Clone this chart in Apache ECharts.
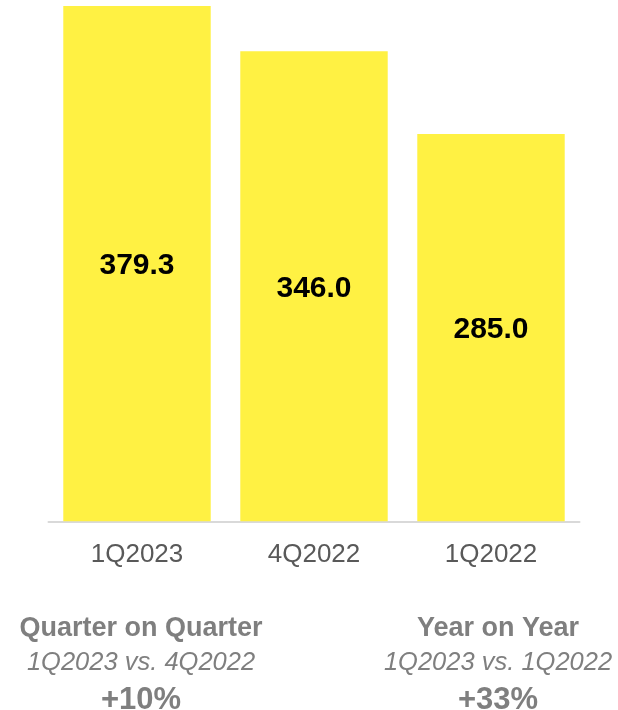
<!DOCTYPE html>
<html>
<head>
<meta charset="utf-8">
<script src="https://cdn.jsdelivr.net/npm/echarts@6/dist/echarts.min.js"></script>
<style>
  html, body { margin: 0; padding: 0; background: #ffffff; }
  #chart { width: 618px; height: 710px; }
</style>
</head>
<body>
<div id="chart"></div>
<script>
// Quarterly values, most recent first
const categories = ['1Q2023', '4Q2022', '1Q2022'];
const values = [379.3, 346.0, 285.0];

// Comparison blocks under the chart: title, subtitle, index of the compared quarter
const comparisonTitles = ['Quarter on Quarter', 'Year on Year'];
const comparisonSubtitles = ['1Q2023 vs. 4Q2022', '1Q2023 vs. 1Q2022'];
const comparisonBase = [1, 2];

const FONT = 'Arial, "Liberation Sans", sans-serif';
const GREY = '#7f7f7f';

function growthText(i) {
  const pct = Math.round((values[0] / values[comparisonBase[i]] - 1) * 100);
  return (pct >= 0 ? '+' : '') + pct + '%';
}

const blockCenters = [141, 498];
const graphics = [];
comparisonTitles.forEach(function (title, i) {
  const cx = blockCenters[i];
  graphics.push({
    type: 'text', x: cx, y: 629,
    style: { text: title, align: 'center', verticalAlign: 'middle',
             font: 'bold 27px ' + FONT, fill: GREY }
  });
  graphics.push({
    type: 'text', x: cx, y: 663,
    style: { text: comparisonSubtitles[i], align: 'center', verticalAlign: 'middle',
             font: 'italic 25.5px ' + FONT, fill: GREY }
  });
  graphics.push({
    type: 'text', x: cx, y: 700,
    style: { text: growthText(i), align: 'center', verticalAlign: 'middle',
             font: 'bold 31px ' + FONT, fill: GREY }
  });
});

const chart = echarts.init(document.getElementById('chart'), null, { renderer: 'canvas' });
chart.setOption({
  animation: false,
  backgroundColor: '#ffffff',
  grid: { left: 48.5, top: 6, width: 531, height: 515.3, containLabel: false },
  xAxis: {
    type: 'category',
    data: categories,
    axisLine: { show: true, lineStyle: { color: '#d9d9d9', width: 2 } },
    axisTick: { show: false },
    axisLabel: { color: '#595959', fontSize: 26, fontFamily: FONT, margin: 21 }
  },
  yAxis: {
    type: 'value',
    min: 0,
    max: 379.3,
    show: false,
    splitLine: { show: false }
  },
  series: [{
    type: 'bar',
    data: values,
    barCategoryGap: '16.7%',
    itemStyle: { color: '#fff143' },
    label: {
      show: true,
      position: 'inside',
      offset: [0, 2],
      formatter: function (p) { return p.value.toFixed(1); },
      color: '#000000',
      fontSize: 30,
      fontWeight: 'bold',
      fontFamily: FONT
    }
  }],
  graphic: graphics
});
</script>
</body>
</html>
